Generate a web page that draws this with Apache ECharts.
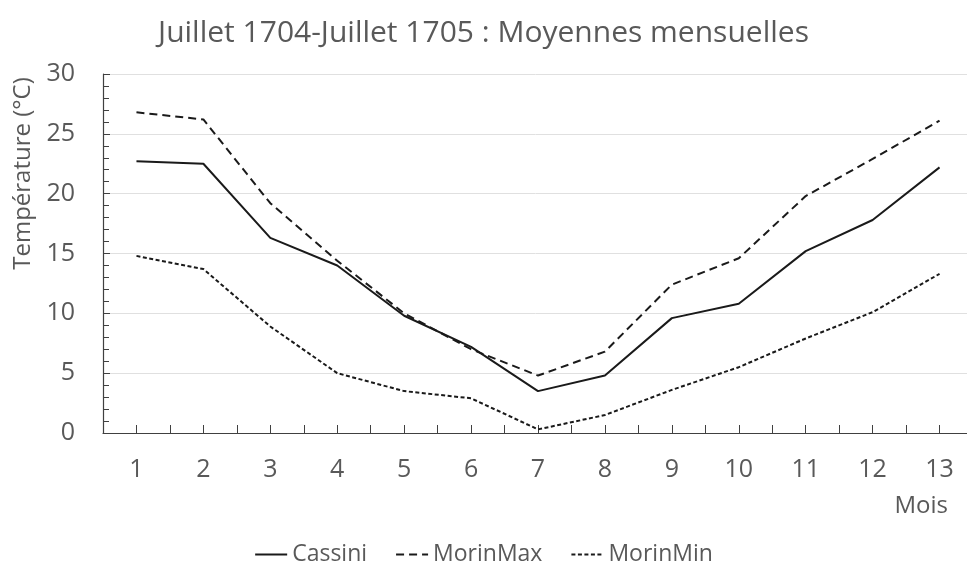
<!DOCTYPE html>
<html>
<head>
<meta charset="utf-8">
<script src="https://cdn.jsdelivr.net/npm/echarts@6/dist/echarts.min.js"></script>
<style>
  html, body { margin: 0; padding: 0; background: #fff; }
  #chart { width: 967px; height: 574px; }
</style>
</head>
<body>
<div id="chart"></div>
<script>
// données
var mois = [1, 2, 3, 4, 5, 6, 7, 8, 9, 10, 11, 12, 13];
var cassini = [22.7, 22.5, 16.3, 14.0, 9.8, 7.2, 3.5, 4.8, 9.6, 10.8, 15.2, 17.8, 22.2];
var morinMax = [26.8, 26.2, 19.2, 14.4, 10.0, 7.0, 4.8, 6.8, 12.4, 14.6, 19.8, 22.9, 26.1];
var morinMin = [14.8, 13.7, 8.9, 5.0, 3.5, 2.9, 0.3, 1.5, 3.6, 5.5, 7.9, 10.1, 13.3];

function pairs(vals) {
  return vals.map(function (v, i) { return [mois[i], v]; });
}

var chart = echarts.init(document.getElementById("chart"));
var textColor = "#595959";
var font = "'Open Sans', 'Noto Sans', sans-serif";

var option = {
  animation: false,
  title: {
    text: "Juillet 1704-Juillet 1705 : Moyennes mensuelles",
    left: "center",
    top: 13,
    textStyle: { color: textColor, fontSize: 30, fontWeight: "normal", fontFamily: font },
  },
  legend: {
    top: 538,
    left: "center",
    itemWidth: 32,
    itemHeight: 10,
    itemGap: 28,
    itemStyle: { opacity: 0 },
    textStyle: { color: textColor, fontSize: 23, fontFamily: font },
    data: ["Cassini", "MorinMax", "MorinMin"],
  },
  grid: {
    left: 103,
    top: 74,
    width: 870,
    height: 359,
    outerBoundsMode: "none",
  },
  xAxis: {
    type: "value",
    min: 0.5,
    max: 13.5,
    interval: 0.5,
    name: "Mois",
    nameLocation: "end",
    nameGap: 0,
    nameTextStyle: {
      color: textColor, fontSize: 24, fontFamily: font,
      align: "right", verticalAlign: "top", padding: [61, 25, 0, 0],
    },
    axisLine: { lineStyle: { color: "#404040", width: 1.2 } },
    axisTick: { inside: true, length: 8, lineStyle: { color: "#404040" } },
    axisLabel: {
      color: textColor, fontSize: 25, fontFamily: font, margin: 24,
      // seuls les mois entiers portent une étiquette
      formatter: function (v) { return Number.isInteger(v) && v >= 1 && v <= 13 ? String(v) : ""; },
    },
    splitLine: { show: false },
  },
  yAxis: {
    type: "value",
    min: 0,
    max: 30,
    interval: 5,
    name: "Température (°C)",
    nameLocation: "middle",
    nameGap: 67,
    nameTextStyle: { color: textColor, fontSize: 24, fontFamily: font, padding: [0, 0, 0, 160] },
    axisLine: { show: true, lineStyle: { color: "#404040", width: 1.2 } },
    axisTick: { show: true, inside: true, length: 7, lineStyle: { color: "#404040" } },
    minorTick: { show: true, splitNumber: 5, length: 6, lineStyle: { color: "#404040" } },
    axisLabel: { color: textColor, fontSize: 25, fontFamily: font, margin: 28 },
    splitLine: { lineStyle: { color: "#e0e0e0", width: 1 } },
  },
  series: [
    {
      name: "Cassini",
      type: "line",
      symbol: "none",
      data: pairs(cassini),
      lineStyle: { color: "#1a1a1a", width: 2, type: "solid" },
      itemStyle: { color: "#1a1a1a" },
    },
    {
      name: "MorinMax",
      type: "line",
      symbol: "none",
      data: pairs(morinMax),
      lineStyle: { color: "#1a1a1a", width: 2, type: [8, 5] },
      itemStyle: { color: "#1a1a1a" },
    },
    {
      name: "MorinMin",
      type: "line",
      symbol: "none",
      data: pairs(morinMin),
      lineStyle: { color: "#1a1a1a", width: 2, type: [4, 2.5] },
      itemStyle: { color: "#1a1a1a" },
    },
  ],
};

chart.setOption(option);
</script>
</body>
</html>
